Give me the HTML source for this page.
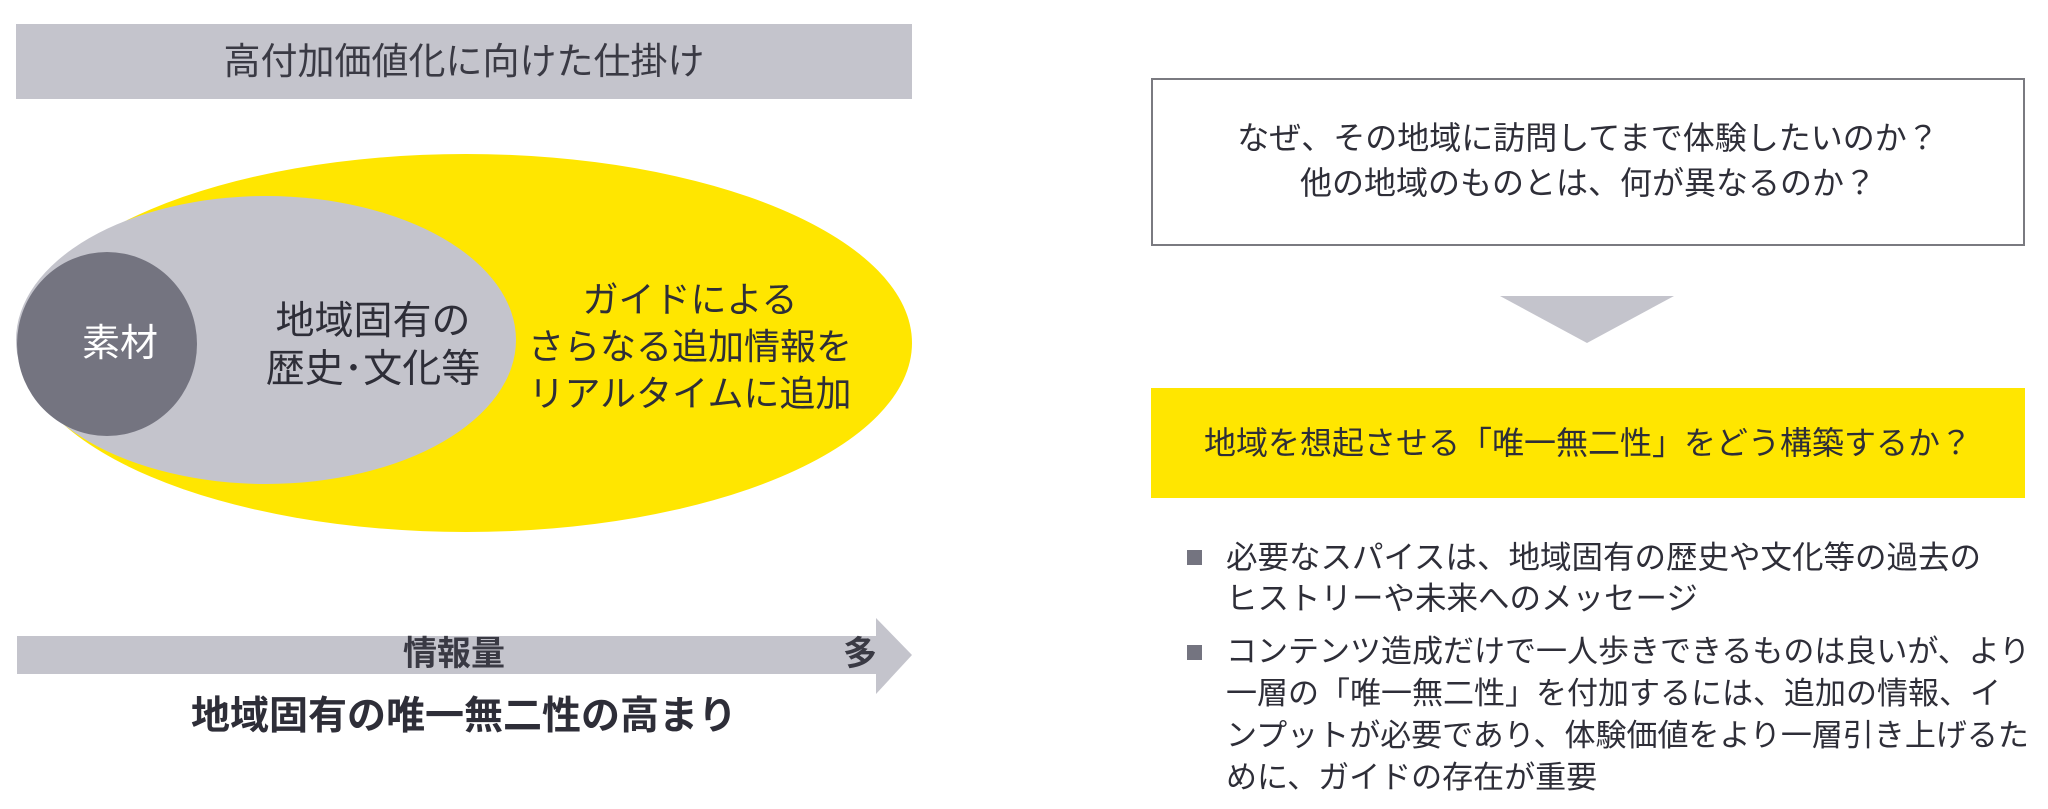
<!DOCTYPE html>
<html><head><meta charset="utf-8"><style>
body{margin:0;width:2048px;height:809px;background:#fff;position:relative;overflow:hidden;font-family:"Liberation Sans","Noto Sans CJK JP",sans-serif;color:#2e2e38}
.a{position:absolute;white-space:nowrap}
.c{text-align:center}
</style></head><body>
<div class="a" style="left:16px;top:24px;width:896px;height:75px;background:#c4c4cc"></div>
<div class="a c" style="left:16px;top:24px;width:896px;line-height:75px;font-size:37px;color:#3a3a44">高付加価値化に向けた仕掛け</div>
<svg class="a" style="left:0;top:0" width="2048" height="809">
<ellipse cx="466" cy="343" rx="446" ry="189" fill="#ffe600"/>
<ellipse cx="266" cy="340" rx="250" ry="144" fill="#c4c4cc"/>
<ellipse cx="107" cy="344" rx="90" ry="92" fill="#747480"/>
<rect x="17" y="636" width="860" height="38" fill="#c4c4cc"/>
<polygon points="876,618 912,655 876,694" fill="#c4c4cc"/>
<rect x="1152" y="79" width="872" height="166" fill="#fff" stroke="#7a7a80" stroke-width="2"/>
<polygon points="1500,296 1674,296 1587,343" fill="#c4c4cc"/>
<rect x="1151" y="388" width="874" height="110" fill="#ffe600"/>
<rect x="1187" y="550" width="15" height="15" fill="#747480"/>
<rect x="1187" y="645" width="15" height="15" fill="#747480"/>
</svg>
<div class="a c" style="left:40px;top:322px;width:160px;line-height:44px;font-size:38px;color:#fff">素材</div>
<div class="a c" style="left:243px;top:298px;width:260px;line-height:48px;font-size:39px">地域固有の<br>歴史･文化等</div>
<div class="a c" style="left:510px;top:276px;width:360px;line-height:47px;font-size:36px">ガイドによる<br>さらなる追加情報を<br>リアルタイムに追加</div>
<div class="a c" style="left:334px;top:634px;width:240px;line-height:40px;font-size:34px;font-weight:bold;color:#3a3a44">情報量</div>
<div class="a" style="left:843px;top:634px;line-height:40px;font-size:34px;font-weight:bold;color:#3a3a44">多</div>
<div class="a c" style="left:114px;top:694px;width:700px;line-height:46px;font-size:39px;font-weight:bold">地域固有の唯一無二性の高まり</div>
<div class="a c" style="left:1152px;top:116px;width:872px;line-height:45px;font-size:32px">なぜ、その地域に訪問してまで体験したいのか？<br>他の地域のものとは、何が異なるのか？</div>
<div class="a c" style="left:1151px;top:420px;width:874px;line-height:46px;font-size:32px">地域を想起させる「唯一無二性」をどう構築するか？</div>
<div class="a" style="left:1226px;top:537px;line-height:41px;font-size:31.5px">必要なスパイスは、地域固有の歴史や文化等の過去の<br>ヒストリーや未来へのメッセージ</div>
<div class="a" style="left:1226px;top:631px;line-height:42px;font-size:31px">コンテンツ造成だけで一人歩きできるものは良いが、より<br>一層の「唯一無二性」を付加するには、追加の情報、イ<br>ンプットが必要であり、体験価値をより一層引き上げるた<br>めに、ガイドの存在が重要</div>
</body></html>
